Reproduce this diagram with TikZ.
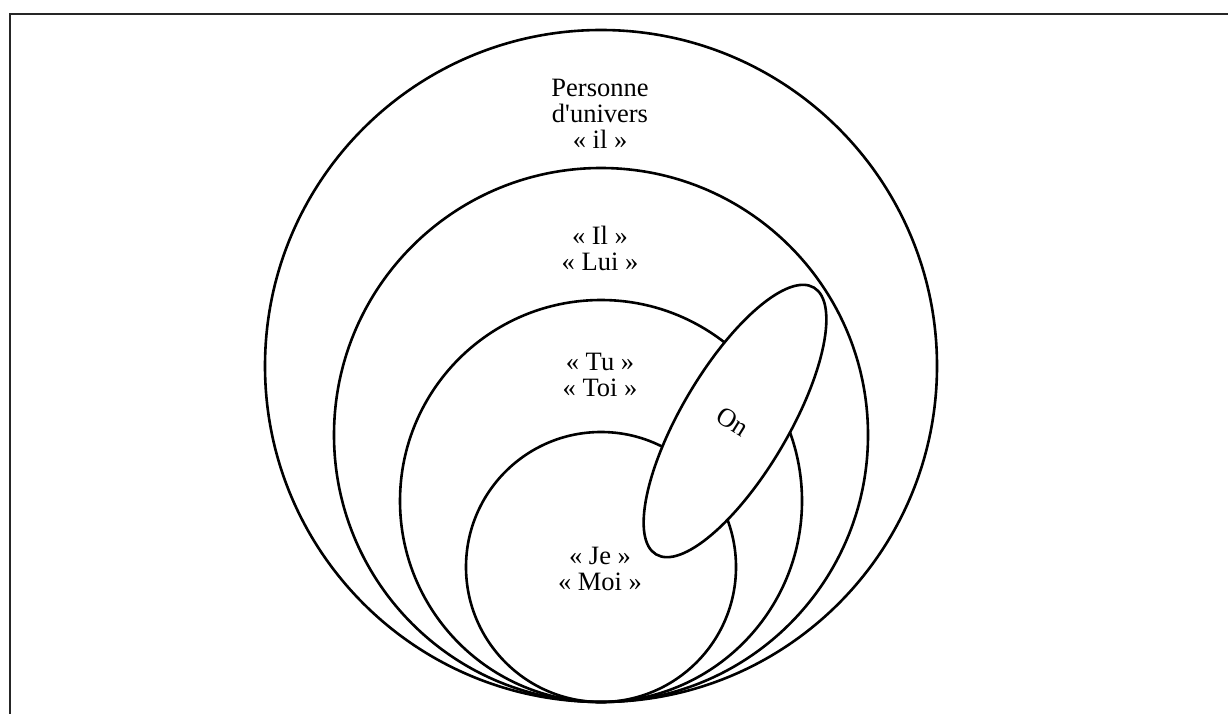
\documentclass[tikz,border=0pt]{standalone}
\usepackage{fontspec}
\setmainfont{Liberation Serif}
\usetikzlibrary{shapes.geometric}
\begin{document}
\begin{tikzpicture}[x=1pt,y=-1pt,
  ring/.style={circle, draw, line width=2.6pt, inner sep=0pt, minimum size=#1},
  lbl/.style={align=center, inner sep=0pt, font=\fontsize{26.5}{26}\selectfont},
  frameline/.style={line width=2pt, draw=black!85}]
\useasboundingbox (0,0) rectangle (1228,714);
\coordinate (fA) at (1228,14);
\coordinate (fB) at (9.5,14);
\coordinate (fC) at (9.5,714);
\draw[frameline] (fA) -- (fB) -- (fC);
\node[ring=672pt] (univ) at (601,366) {};
\node[ring=534pt] (il) at (601,435) {};
\node[ring=402pt] (tu) at (601,501) {};
\node[ring=270pt] (je) at (601,567) {};
\node[ellipse, draw, fill=white, line width=2.6pt, inner sep=0pt,
      minimum width=310pt, minimum height=107pt, rotate=59.4] (on) at (735,421) {};
\node[lbl] (tUniv) at (600,114) {Personne\\d\textquotesingle univers\\« il »};
\node[lbl] (tIl) at (600,248) {« Il »\\« Lui »};
\node[lbl] (tTu) at (600,375) {« Tu »\\« Toi »};
\node[lbl] (tJe) at (600,569) {« Je »\\« Moi »};
\node[lbl, rotate=-32] (tOn) at (733,422) {On};
\end{tikzpicture}
\end{document}
